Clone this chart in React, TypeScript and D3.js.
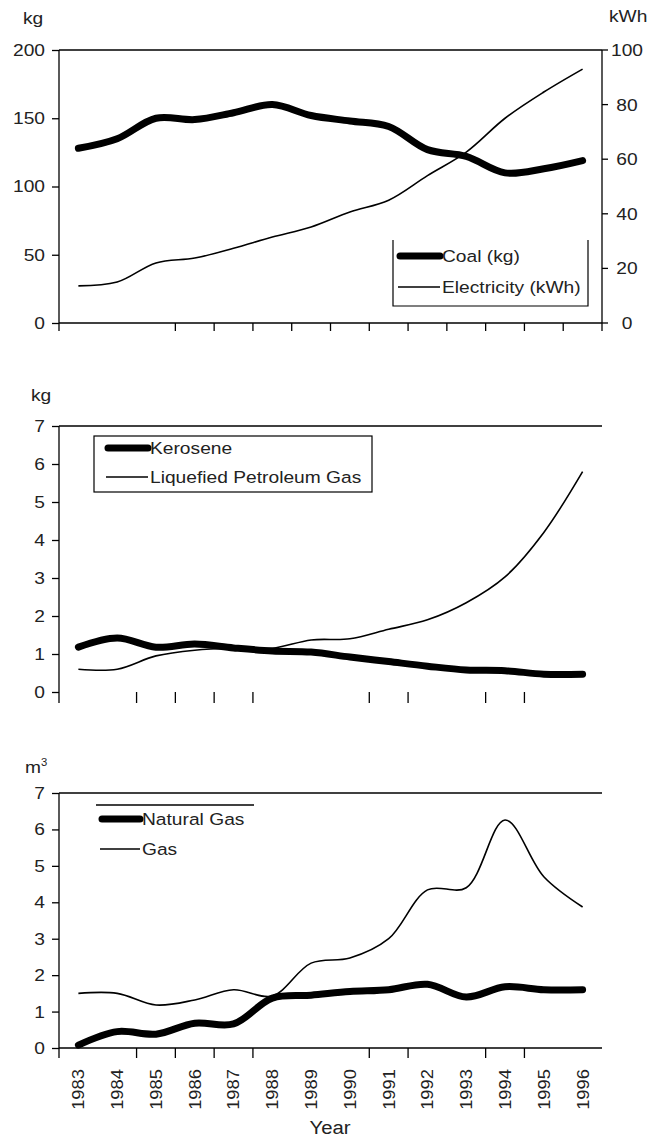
import { useEffect, useRef } from "react";
import * as d3 from "d3";

// years on the shared x axis
const years = ["1983", "1984", "1985", "1986", "1987", "1988", "1989", "1990", "1991", "1992", "1993", "1994", "1995", "1996"];

// top panel
const coalKg = [128, 135, 150, 149, 154, 160, 152, 148, 144, 127, 122, 110, 113, 119];
const electricityKwh = [13.6, 15, 22, 23.8, 27.4, 31.5, 35.2, 40.7, 45, 54, 62.6, 75, 84.6, 93];
const coalTicks = [0, 50, 100, 150, 200];
const elecTicks = [0, 20, 40, 60, 80, 100];

// middle panel
const keroseneKg = [1.18, 1.42, 1.18, 1.26, 1.16, 1.08, 1.05, 0.92, 0.8, 0.68, 0.58, 0.56, 0.47, 0.47];
const lpgKg = [0.6, 0.6, 0.95, 1.1, 1.15, 1.15, 1.37, 1.4, 1.65, 1.9, 2.35, 3.03, 4.2, 5.8];

// bottom panel
const naturalGasM3 = [0.08, 0.45, 0.38, 0.68, 0.66, 1.37, 1.45, 1.55, 1.6, 1.75, 1.4, 1.68, 1.6, 1.6];
const gasM3 = [1.5, 1.5, 1.18, 1.32, 1.6, 1.43, 2.33, 2.47, 3.0, 4.34, 4.4, 6.26, 4.7, 3.87];
const smallTicks = [0, 1, 2, 3, 4, 5, 6, 7];

export default function App() {
  const ref = useRef<SVGSVGElement>(null);

  useEffect(() => {
    if (!ref.current) return;
    const svg = d3.select(ref.current);
    svg.selectAll("*").remove();

    const font = "'Liberation Sans', Arial, sans-serif";
    const txt = "#222";
    const left = 59;
    const right = 602;
    const sx = 1.13; // the original lettering is a bit wider than Arial

    const x = d3.scaleBand<string>().domain(years).range([left, right]).paddingInner(0).paddingOuter(0);
    const cx = (i: number) => (x(years[i]) || 0) + x.bandwidth() / 2;
    const boundary = (k: number) => (k < years.length ? x(years[k]) || 0 : right);

    const g = svg.append("g").attr("font-family", font).attr("fill", txt);

    const hline = (x1: number, x2: number, y: number) =>
      g.append("line").attr("x1", x1).attr("x2", x2).attr("y1", y).attr("y2", y).attr("stroke", "#000").attr("stroke-width", 1.3);
    const vline = (xv: number, y1: number, y2: number) =>
      g.append("line").attr("x1", xv).attr("x2", xv).attr("y1", y1).attr("y2", y2).attr("stroke", "#000").attr("stroke-width", 1.3);

    const label = (tx: number, ty: number, s: string, anchor = "start", size = 17) =>
      g.append("text").attr("transform", `translate(${tx},${ty}) scale(${sx},1)`)
        .attr("text-anchor", anchor).attr("font-size", size).text(s);

    const leftAxis = (y: d3.ScaleLinear<number, number>, ticks: number[]) => {
      const ax = g.append("g").attr("transform", `translate(${left},0)`)
        .call(d3.axisLeft(y).tickValues(ticks).tickSize(7).tickPadding(7).tickFormat(d3.format("d")));
      ax.select(".domain").remove();
      ax.selectAll("line").attr("stroke", "#000").attr("stroke-width", 1.3);
      ax.selectAll("text").attr("font-size", 17).attr("font-family", font).attr("fill", txt)
        .attr("x", -14 / sx).attr("transform", `scale(${sx},1)`);
    };

    const xTicks = (ks: number[], y0: number, len: number) => {
      ks.forEach((k) => vline(boundary(k), y0, y0 + len));
    };

    const series = (vals: number[], y: d3.ScaleLinear<number, number>, w: number) => {
      const line = d3.line<number>().x((_, i) => cx(i)).y((d) => y(d)).curve(d3.curveCatmullRom.alpha(0.5));
      g.append("path").attr("d", line(vals) || "").attr("fill", "none").attr("stroke", "#000")
        .attr("stroke-width", w).attr("stroke-linejoin", "round").attr("stroke-linecap", w > 3 ? "round" : "butt");
    };

    const legendItem = (x1: number, x2: number, y: number, w: number, s: string) => {
      g.append("line").attr("x1", x1).attr("x2", x2).attr("y1", y).attr("y2", y).attr("stroke", "#000")
        .attr("stroke-width", w).attr("stroke-linecap", w > 3 ? "round" : "butt");
      label(x2 + 2, y + 6, s);
    };

    // ---------- top panel ----------
    const yCoal = d3.scaleLinear().domain([0, 200]).range([323, 50]);
    const yElec = d3.scaleLinear().domain([0, 100]).range([323, 50]);
    hline(left, right, 50);
    hline(left, right, 323);
    vline(left, 50, 331);
    vline(right, 50, 331);
    leftAxis(yCoal, coalTicks);
    elecTicks.forEach((t) => {
      hline(right, right + 6, yElec(t));
      label(627, yElec(t) + 6, String(t), "middle");
    });
    xTicks([3, 4, 5, 6, 7, 8, 9, 10, 11, 12, 13], 323, 8);
    label(23, 24, "kg");
    label(609, 22, "kWh");
    series(electricityKwh, yElec, 1.6);
    series(coalKg, yCoal, 7);
    // legend box (open at the top)
    g.append("path").attr("d", "M393,240V306H588V240").attr("fill", "#fff").attr("stroke", "#000").attr("stroke-width", 1.2);
    legendItem(400, 440, 256, 7, "Coal (kg)");
    legendItem(398, 440, 287, 1.6, "Electricity (kWh)");

    // ---------- middle panel ----------
    const yMid = d3.scaleLinear().domain([0, 7]).range([692, 426]);
    hline(left, right, 426);
    vline(left, 426, 703);
    leftAxis(yMid, smallTicks);
    xTicks([2, 3, 4, 5, 8, 9, 11, 12], 692, 11);
    label(31, 401, "kg");
    series(lpgKg, yMid, 1.6);
    series(keroseneKg, yMid, 7);
    g.append("rect").attr("x", 94).attr("y", 436).attr("width", 278).attr("height", 56)
      .attr("fill", "#fff").attr("stroke", "#000").attr("stroke-width", 1.2);
    legendItem(108, 148, 448, 7, "Kerosene");
    legendItem(106, 148, 477, 1.6, "Liquefied Petroleum Gas");

    // ---------- bottom panel ----------
    const yBot = d3.scaleLinear().domain([0, 7]).range([1048, 793]);
    hline(left, right, 793);
    hline(left, right, 1048);
    vline(left, 793, 1058);
    leftAxis(yBot, smallTicks);
    xTicks([2, 3, 4, 5, 8, 9, 11, 12], 1048, 10);
    const m3 = label(25, 773, "m");
    m3.append("tspan").attr("font-size", 10).attr("dy", -7).text("3");
    series(gasM3, yBot, 1.6);
    series(naturalGasM3, yBot, 7);
    hline(96, 254, 805);
    legendItem(102, 140, 819, 7, "Natural Gas");
    legendItem(100, 140, 849, 1.6, "Gas");

    // year labels
    years.forEach((yr, i) => {
      g.append("text").attr("transform", `translate(${cx(i)},1069) rotate(-90) scale(1.08,1)`)
        .attr("text-anchor", "end").attr("dy", "0.35em").attr("font-size", 17).text(yr);
    });
    label(330, 1134, "Year", "middle", 18);
  }, []);

  return (
    <svg ref={ref} width={662} height={1139} style={{ position: "absolute", left: 0, top: 0, background: "#fff" }} />
  );
}
